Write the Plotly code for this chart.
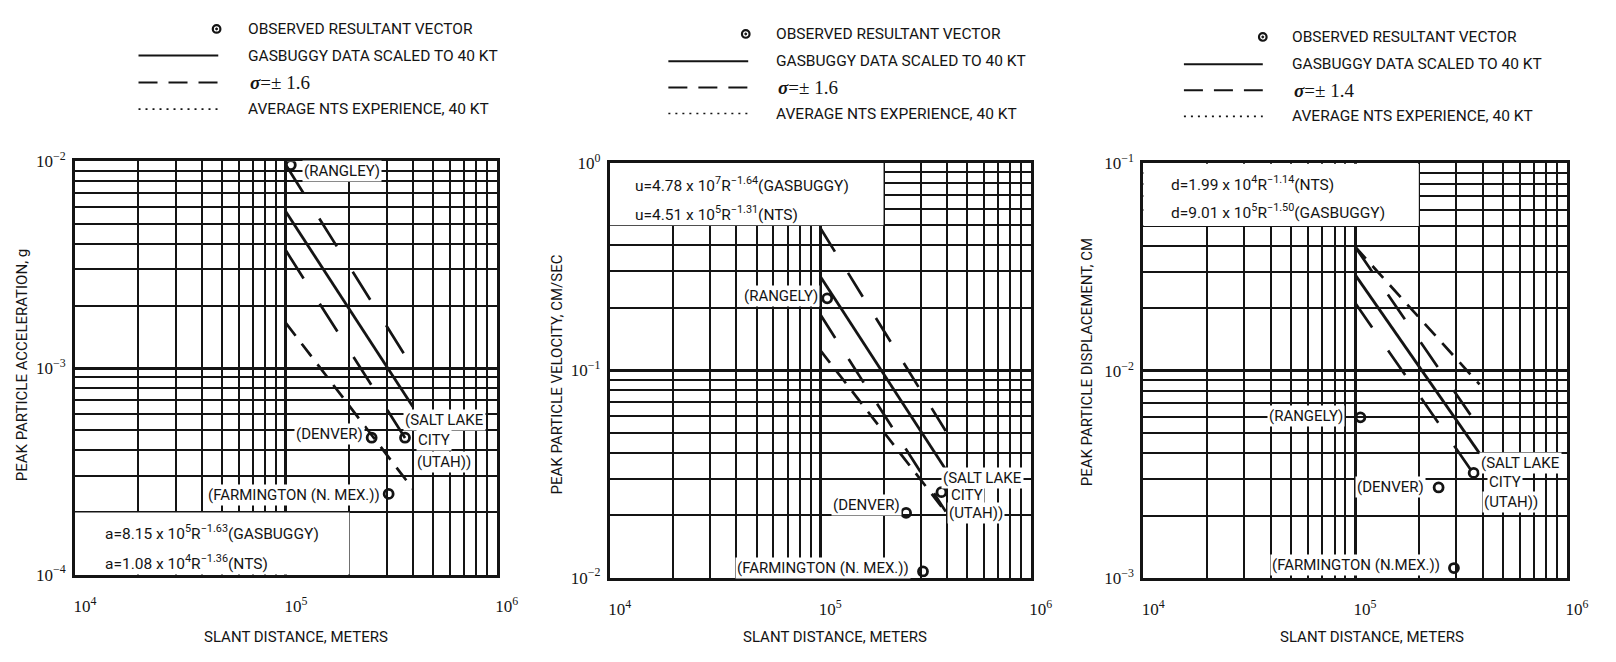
import plotly.graph_objects as go

W, H = 1616, 662
INK = "#141414"

# ---------------- data ----------------
station_labels = ["RANGLEY", "DENVER", "SALT LAKE CITY (UTAH)", "FARMINGTON (N. MEX.)"]

acc_obs_R = [1.055e5, 2.55e5, 3.67e5, 3.07e5]
acc_obs = [9.6e-3, 4.6e-4, 4.6e-4, 2.46e-4]
acc_fit_R = [1.0e5, 4.0e5]
acc_gasbuggy = [5.7e-3, 6.5e-4]
acc_sigma_hi = [9.6e-3, 1.0e-3]
acc_sigma_lo = [3.7e-3, 4.0e-4]
acc_nts = [1.65e-3, 2.6e-4]

vel_obs_R = [1.08e5, 2.56e5, 3.77e5, 3.08e5]
vel_obs = [0.222, 0.0205, 0.0258, 0.0107]
vel_fit_R = [1.0e5, 3.95e5]
vel_gasbuggy = [0.284, 0.0332]
vel_sigma_hi = [0.486, 0.0509]
vel_sigma_lo = [0.186, 0.0208]
vel_nts = [0.125, 0.0207]

disp_obs_R = [1.06e5, 2.48e5, 3.63e5, 2.93e5]
disp_obs = [5.97e-3, 2.74e-3, 3.22e-3, 1.12e-3]
disp_fit_R = [1.0e5, 3.87e5]
disp_gasbuggy = [0.0291, 4.0e-3]
disp_sigma_hi = [0.0397, 5.3e-3]
disp_sigma_lo = [0.0213, 2.9e-3]
disp_nts = [0.0397, 8.6e-3]

x_tick_vals = [1e4, 1e5, 1e6]
x_tick_text = ["10<sup>4</sup>", "10<sup>5</sup>", "10<sup>6</sup>"]
acc_tick_vals = [1e-4, 1e-3, 1e-2]
acc_tick_text = ["10<sup>−4</sup>", "10<sup>−3</sup>", "10<sup>−2</sup>"]
vel_tick_vals = [1e-2, 1e-1, 1.0]
vel_tick_text = ["10<sup>−2</sup>", "10<sup>−1</sup>", "10<sup>0</sup>"]
disp_tick_vals = [1e-3, 1e-2, 1e-1]
disp_tick_text = ["10<sup>−3</sup>", "10<sup>−2</sup>", "10<sup>−1</sup>"]

SANS = "Roboto"
SERIF = "Liberation Serif"

# ---------------- geometry (pixels) ----------------
panels = [
    dict(x0=75, x1=503, yt=154.5, yb=582, yr=[-4, -2]),
    dict(x0=617.5, x1=1044.5, yt=156, yb=585, yr=[-2, 0]),
    dict(x0=1158.7, x1=1588.5, yt=156.7, yb=585.7, yr=[-3, -1]),
]

def px(x):
    return x / W

def py(y):
    return 1 - y / H

fig = go.Figure()

series = [
    (acc_obs_R, acc_obs, acc_fit_R, acc_gasbuggy, acc_sigma_hi, acc_sigma_lo, acc_nts, "33px,30px"),
    (vel_obs_R, vel_obs, vel_fit_R, vel_gasbuggy, vel_sigma_hi, vel_sigma_lo, vel_nts, "28px,25px"),
    (disp_obs_R, disp_obs, disp_fit_R, disp_gasbuggy, disp_sigma_hi, disp_sigma_lo, disp_nts, "30px,28px"),
]

for i, (oR, ov, fR, gb, shi, slo, nts, sdash) in enumerate(series):
    xa = "x" if i == 0 else f"x{i+1}"
    ya = "y" if i == 0 else f"y{i+1}"
    common = dict(xaxis=xa, yaxis=ya, showlegend=False, hoverinfo="skip")
    fig.add_trace(go.Scatter(x=fR, y=nts, mode="lines",
                             line=dict(color=INK, width=2.7, dash="16px,10px"), **common))
    fig.add_trace(go.Scatter(x=fR, y=shi, mode="lines",
                             line=dict(color=INK, width=2.7, dash=sdash), **common))
    fig.add_trace(go.Scatter(x=fR, y=slo, mode="lines",
                             line=dict(color=INK, width=2.7, dash=sdash), **common))
    fig.add_trace(go.Scatter(x=fR, y=gb, mode="lines",
                             line=dict(color=INK, width=2.8), **common))
    fig.add_trace(go.Scatter(x=oR, y=ov, mode="markers", text=station_labels,
                             marker=dict(symbol="circle-open", size=9, color=INK,
                                         line=dict(width=2.8, color=INK)), **common))

minor_x = [m * 10 ** e for e in range(4, 6) for m in range(2, 10)]

layout_axes = {}
ytick_sets = [(acc_tick_vals, acc_tick_text), (vel_tick_vals, vel_tick_text),
              (disp_tick_vals, disp_tick_text)]
for i, p in enumerate(panels):
    xk = "xaxis" if i == 0 else f"xaxis{i+1}"
    yk = "yaxis" if i == 0 else f"yaxis{i+1}"
    ya = "y" if i == 0 else f"y{i+1}"
    xa = "x" if i == 0 else f"x{i+1}"
    e0 = p["yr"][0]
    minor_y = [m * 10 ** e for e in range(e0, e0 + 2) for m in range(2, 10)]
    layout_axes[xk] = dict(
        type="log", range=[4, 6], domain=[px(p["x0"]), px(p["x1"])], anchor=ya,
        tickmode="array", tickvals=x_tick_vals, ticktext=x_tick_text,
        ticks="", showgrid=True, gridcolor=INK, gridwidth=2.6,
        minor=dict(tickmode="array", tickvals=minor_x, showgrid=True,
                   gridcolor=INK, gridwidth=1.7, ticks=""),
        showline=True, mirror=True, linecolor=INK, linewidth=2.6,
        zeroline=False, ticklabelstandoff=14, ticklabelshift=10,
        tickfont=dict(family=SERIF, size=17, color=INK),
    )
    tv, tt = ytick_sets[i]
    layout_axes[yk] = dict(
        type="log", range=p["yr"], domain=[py(p["yb"]), py(p["yt"])], anchor=xa,
        tickmode="array", tickvals=tv, ticktext=tt,
        ticks="", showgrid=True, gridcolor=INK, gridwidth=2.6,
        minor=dict(tickmode="array", tickvals=minor_y, showgrid=True,
                   gridcolor=INK, gridwidth=1.7, ticks=""),
        showline=True, mirror=True, linecolor=INK, linewidth=2.6,
        zeroline=False, ticklabelstandoff=3,
        tickfont=dict(family=SERIF, size=17, color=INK),
    )

# white boxes holding the formulas (cover the grid, grid-aligned)
shapes = [
    dict(type="rect", xref="x", yref="y", x0=1e4, x1=2e5, y0=1e-4, y1=2e-4,
         fillcolor="white", line=dict(width=0), layer="between"),
    dict(type="rect", xref="x2", yref="y2", x0=1e4, x1=2e5, y0=0.5, y1=1.0,
         fillcolor="white", line=dict(width=0), layer="between"),
    dict(type="rect", xref="x3", yref="y3", x0=1e4, x1=2e5, y0=0.05, y1=0.1,
         fillcolor="white", line=dict(width=0), layer="between"),
]

annotations = []

def ann(text, x, y, xanchor="left", size=15, family=None, bg=None, angle=0):
    d = dict(text=text, x=px(x), y=py(y), xref="paper", yref="paper",
             xanchor=xanchor, yanchor="middle", showarrow=False, textangle=angle,
             font=dict(family=family or SANS, size=size, color=INK))
    if bg:
        d["bgcolor"] = bg
        d["borderpad"] = 1
    annotations.append(d)

# ---------------- legends (one per panel) ----------------
legends = [
    dict(rows=[17.5, 45, 73, 100.5], circ=218.7, text=248.7, l0=139.5, l1=220.4, sig="1.6"),
    dict(rows=[22.7, 51, 78, 105], circ=755.5, text=784, l0=677, l1=758, sig="1.6"),
    dict(rows=[25.8, 54, 81, 108], circ=1280, text=1307.5, l0=1200, l1=1280, sig="1.4"),
]
LEG = 15.5
for lg in legends:
    r = lg["rows"]
    shapes.append(dict(type="circle", xref="paper", yref="paper", xsizemode="pixel",
                       ysizemode="pixel", xanchor=px(lg["circ"]), yanchor=py(r[0]),
                       x0=-3.8, x1=3.8, y0=-3.8, y1=3.8, line=dict(color=INK, width=2.2)))
    shapes.append(dict(type="circle", xref="paper", yref="paper", xsizemode="pixel",
                       ysizemode="pixel", xanchor=px(lg["circ"]), yanchor=py(r[0]),
                       x0=-1, x1=1, y0=-1, y1=1, fillcolor=INK, line=dict(color=INK, width=1)))
    shapes.append(dict(type="line", xref="paper", yref="paper", x0=px(lg["l0"]),
                       x1=px(lg["l1"]), y0=py(r[1]), y1=py(r[1]),
                       line=dict(color=INK, width=2)))
    shapes.append(dict(type="line", xref="paper", yref="paper", x0=px(lg["l0"]),
                       x1=px(lg["l1"]), y0=py(r[2]), y1=py(r[2]),
                       line=dict(color=INK, width=2, dash="19px,11px")))
    shapes.append(dict(type="line", xref="paper", yref="paper", x0=px(lg["l0"]),
                       x1=px(lg["l1"]), y0=py(r[3]), y1=py(r[3]),
                       line=dict(color=INK, width=1.6, dash="2px,5px")))
    ann("OBSERVED RESULTANT VECTOR", lg["text"], r[0], size=LEG)
    ann("GASBUGGY DATA SCALED TO 40 KT", lg["text"], r[1], size=LEG)
    ann("<b><i>σ</i></b>=± " + lg["sig"], lg["text"] + 2, r[2], size=19, family=SERIF)
    ann("AVERAGE NTS EXPERIENCE, 40 KT", lg["text"], r[3], size=LEG)

# ---------------- formulas ----------------
FS = 15.5
ann("a=8.15 x 10<sup>5</sup>R<sup>−1.63</sup>(GASBUGGY)", 103, 538, size=FS)
ann("a=1.08 x 10<sup>4</sup>R<sup>−1.36</sup>(NTS)", 103, 569, size=FS)
ann("u=4.78 x 10<sup>7</sup>R<sup>−1.64</sup>(GASBUGGY)", 641.6, 178, size=FS)
ann("u=4.51 x 10<sup>5</sup>R<sup>−1.31</sup>(NTS)", 641.6, 208, size=FS)
ann("d=1.99 x 10<sup>4</sup>R<sup>−1.14</sup>(NTS)", 1184.5, 177, size=FS)
ann("d=9.01 x 10<sup>5</sup>R<sup>−1.50</sup>(GASBUGGY)", 1184.5, 206, size=FS)

# ---------------- station labels ----------------
LS = 15
ann("(RANGLEY)", 305, 164, size=LS, bg="white")
ann("(DENVER)", 369, 437, xanchor="right", size=LS, bg="white")
ann("(SALT LAKE", 408, 421.7, size=LS, bg="white")
ann("CITY", 421, 442.7, size=LS, bg="white")
ann("(UTAH))", 420, 465, size=LS, bg="white")
ann("(FARMINGTON (N. MEX.))", 387, 500, xanchor="right", size=LS, bg="white")
ann("(RANGELY)", 831, 293.3, xanchor="right", size=LS, bg="white")
ann("(DENVER)", 914.5, 510, xanchor="right", size=LS, bg="white")
ann("(SALT LAKE", 954, 481.7, size=LS, bg="white")
ann("CITY", 962, 500, size=LS, bg="white")
ann("(UTAH))", 960, 518.3, size=LS, bg="white")
ann("(FARMINGTON (N. MEX.))", 923, 575, xanchor="right", size=LS, bg="white")
ann("(RANGELY)", 1363.5, 418.3, xanchor="right", size=LS, bg="white")
ann("(DENVER)", 1445.5, 491.7, xanchor="right", size=LS, bg="white")
ann("(SALT LAKE", 1499.5, 466.7, size=LS, bg="white")
ann("CITY", 1507, 486, size=LS, bg="white")
ann("(UTAH))", 1502, 506.7, size=LS, bg="white")
ann("(FARMINGTON (N.MEX.))", 1462, 571.7, xanchor="right", size=LS, bg="white")

# ---------------- axis titles ----------------
AT = 15
for cx in (299.6, 845.6, 1391):
    ann("SLANT DISTANCE, METERS", cx, 646.5, xanchor="center", size=AT)
ann("PEAK PARTICLE ACCELERATION, g", 20.7, 365, xanchor="center", size=AT, angle=-90)
ann("PEAK PARTICLE VELOCITY, CM/SEC", 564, 375, xanchor="center", size=AT, angle=-90)
ann("PEAK PARTICLE DISPLACEMENT, CM", 1102, 362, xanchor="center", size=AT, angle=-90)

fig.update_layout(
    width=W, height=H, margin=dict(l=0, r=0, t=0, b=0),
    paper_bgcolor="white", plot_bgcolor="white",
    showlegend=False, shapes=shapes, annotations=annotations,
    font=dict(family=SANS, color=INK),
    **layout_axes,
)

fig.write_html("out.html")
